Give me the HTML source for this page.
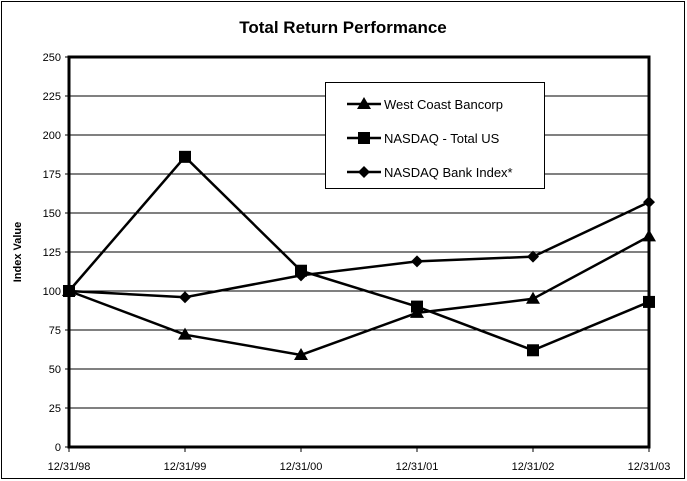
<!DOCTYPE html>
<html><head><meta charset="utf-8"><style>
body{margin:0;background:#fff;}
svg{display:block;font-family:"Liberation Sans",Arial,sans-serif;}
</style></head><body>
<svg id="chart" width="687" height="481" viewBox="0 0 687 481">
<rect x="1.5" y="1.5" width="683" height="477" fill="#fff" stroke="#000" stroke-width="1"/>
<text x="343" y="33" text-anchor="middle" font-size="17" font-weight="bold">Total Return Performance</text>
<text transform="translate(21,252) rotate(-90)" text-anchor="middle" font-size="11" font-weight="bold">Index Value</text>
<g id="grid"></g>
<g id="series"></g>
<g id="legend">
<rect x="325.5" y="82.5" width="219" height="106" fill="#fff" stroke="#000"/>
</g>
</svg>
<script>
const categories=["12/31/98","12/31/99","12/31/00","12/31/01","12/31/02","12/31/03"];
const yTicks=[0,25,50,75,100,125,150,175,200,225,250];
const westCoast=[100,72,59,86,95,135];
const nasdaqTotal=[100,186,113,90,62,93];
const bankIndex=[100,96,110,119,122,157];
const seriesNames=["West Coast Bancorp","NASDAQ - Total US","NASDAQ Bank Index*"];

const NS="http://www.w3.org/2000/svg";
const X0=69,X1=649,Y0=447,Y1=57,YMAX=250;
const xs=i=>X0+i*(X1-X0)/(categories.length-1);
const ys=v=>Y0-v*(Y0-Y1)/YMAX;
function mk(tag,attrs,parent){const e=document.createElementNS(NS,tag);for(const k in attrs)e.setAttribute(k,attrs[k]);parent.appendChild(e);return e;}
const grid=document.getElementById('grid');
yTicks.forEach(t=>{
  const y=ys(t);
  const l=mk('line',{x1:X0-4,x2:X1,y1:y,y2:y,stroke:'#000','stroke-width':1},grid);
  
  
  const tx=mk('text',{x:X0-8,y:y+4,'text-anchor':'end','font-size':11},grid);
  tx.textContent=t;
  
  
});
categories.forEach((c,i)=>{
  const x=xs(i);
  const tk=mk('line',{x1:x,x2:x,y1:Y0,y2:Y0+5,stroke:'#000'},grid);
  
  
  const tx=mk('text',{x:x,y:Y0+23,'text-anchor':'middle','font-size':11},grid);
  tx.textContent=c;
  
  
});
const ax=mk('path',{d:`M${X0},${Y1} L${X0},${Y0} L${X1},${Y0} L${X1},${Y1} Z`,fill:'none',stroke:'#000','stroke-width':3},grid);



function marker(type,x,y,g){
  let e;
  if(type==='tri') e=mk('polygon',{points:`${x},${y-7} ${x-7},${y+5} ${x+7},${y+5}`,fill:'#000'},g);
  else if(type==='sq') e=mk('rect',{x:x-6,y:y-6,width:12,height:12,fill:'#000'},g);
  else e=mk('polygon',{points:`${x},${y-6} ${x+6},${y} ${x},${y+6} ${x-6},${y}`,fill:'#000'},g);
  return e;
}
const sg=document.getElementById('series');
[[westCoast,'tri','west-coast-bancorp'],[nasdaqTotal,'sq','nasdaq-total-us'],[bankIndex,'dia','nasdaq-bank-index']].forEach(([vals,m,name])=>{
  const g=mk('g',{},sg);
  
  
  const p=mk('polyline',{points:vals.map((v,i)=>xs(i)+','+ys(v)).join(' '),fill:'none',stroke:'#000','stroke-width':2.5},g);
  
  
  vals.forEach((v,i)=>{
    const e=marker(m,xs(i),ys(v),g);
    
    
  });
});
const lg=document.getElementById('legend');
['tri','sq','dia'].forEach((m,i)=>{
  const y=104+i*34;
  const g=mk('g',{},lg);
  
  
  mk('line',{x1:347,x2:381,y1:y,y2:y,stroke:'#000','stroke-width':2.5},g);
  marker(m,364,y,g);
  const t=mk('text',{x:384,y:y+5,'font-size':13},g);
  t.textContent=seriesNames[i];
});
</script>
</body></html>
